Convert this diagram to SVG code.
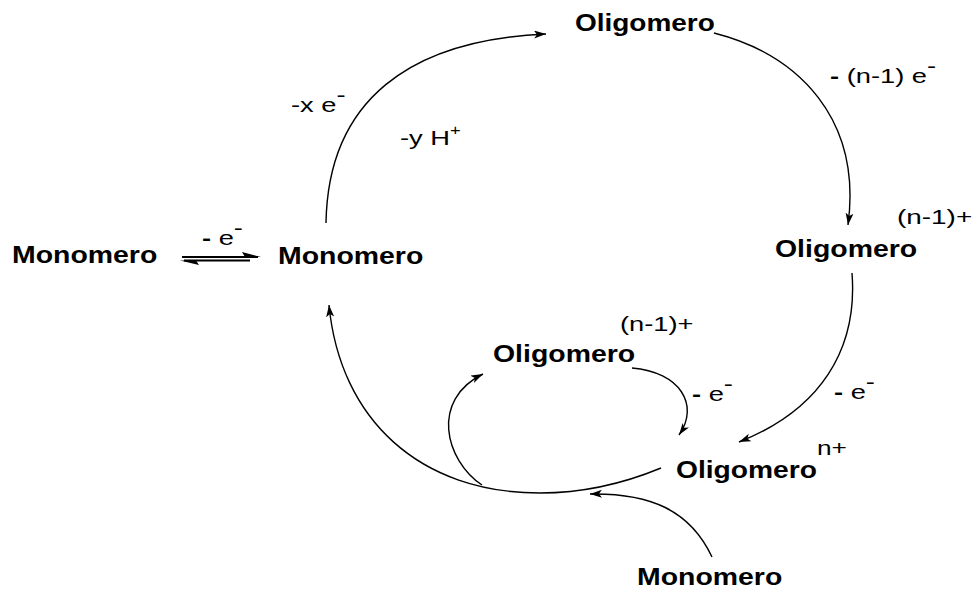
<svg xmlns="http://www.w3.org/2000/svg" width="975" height="590" viewBox="0 0 975 590">
<defs>
<style>
.n{font-family:"Liberation Sans",Arial,sans-serif;font-weight:bold;font-size:23.5px;fill:#000}
.l{font-family:"Liberation Sans",Arial,sans-serif;font-size:21px;fill:#000}
.b{font-weight:bold}
.c{fill:none;stroke:#000;stroke-width:1.4}
.eq{fill:none;stroke:#000;stroke-width:1.8}
</style>
<marker id="ah" markerUnits="userSpaceOnUse" markerWidth="14" markerHeight="10" refX="12" refY="4" orient="auto">
<path d="M0,0 L12,4 L0,8 L3,4 z" fill="#000"/>
</marker>
</defs>
<rect width="975" height="590" fill="#fff"/>

<g id="connectors">
<path class="c" d="M326,223 C328,100 410,40 546,34" marker-end="url(#ah)"/>
<path class="c" d="M714,33 C800,55 862,120 848,225" marker-end="url(#ah)"/>
<path class="c" d="M852,273 C858,350 820,410 739,442" marker-end="url(#ah)"/>
<path class="c" d="M632,368 C680,372 700,405 679,435" marker-end="url(#ah)"/>
<path class="c" d="M661,468 C620,485 580,493 540,493 C420,493 340,420 329,305" marker-end="url(#ah)"/>
<path class="c" d="M482,485 C445,460 430,400 483,374" marker-end="url(#ah)"/>
<path class="c" d="M712,557 C690,510 650,493 590,494" marker-end="url(#ah)"/>
<g id="equilibrium">
<line class="eq" x1="182" y1="257" x2="258" y2="257"/>
<polygon points="261,257 242,252 245,257" fill="#000"/>
<line class="eq" x1="184" y1="260.5" x2="250" y2="260.5"/>
<polygon points="180,260.5 199,265 196,260.5" fill="#000"/>
</g>
</g>

<g id="labels">
<text class="l" transform="translate(202,245) scale(1.3,1)"><tspan class="b">-</tspan> e<tspan dy="-10">-</tspan></text>
<text class="l" transform="translate(291,112) scale(1.3,1)">-x e<tspan dy="-10">-</tspan></text>
<text class="l" transform="translate(400,145) scale(1.3,1)">-y H<tspan dy="-10" font-size="14">+</tspan></text>
<text class="l" transform="translate(830,83) scale(1.3,1)"><tspan class="b">-</tspan> (n-1) e<tspan dy="-10">-</tspan></text>
<text class="l" transform="translate(897,224) scale(1.33,1)">(n-1)+</text>
<text class="l" transform="translate(620,331) scale(1.3,1)">(n-1)+</text>
<text class="l" transform="translate(692,401) scale(1.3,1)"><tspan class="b">-</tspan> e<tspan dy="-10">-</tspan></text>
<text class="l" transform="translate(834,399) scale(1.3,1)"><tspan class="b">-</tspan> e<tspan dy="-10">-</tspan></text>
<text class="l" transform="translate(817,455) scale(1.25,1)">n+</text>
</g>

<g id="monomero-left"><text class="n" transform="translate(12,263) scale(1.21,1)">Monomero</text></g>
<g id="monomero-center"><text class="n" transform="translate(278,264) scale(1.21,1)">Monomero</text></g>
<g id="oligomero-top"><text class="n" transform="translate(575,31) scale(1.19,1)">Oligomero</text></g>
<g id="oligomero-right"><text class="n" transform="translate(775,257) scale(1.21,1)">Oligomero</text></g>
<g id="oligomero-middle"><text class="n" transform="translate(493,362) scale(1.21,1)">Oligomero</text></g>
<g id="oligomero-bottom"><text class="n" transform="translate(676,478) scale(1.2,1)">Oligomero</text></g>
<g id="monomero-bottom"><text class="n" transform="translate(637,585) scale(1.21,1)">Monomero</text></g>
</svg>
